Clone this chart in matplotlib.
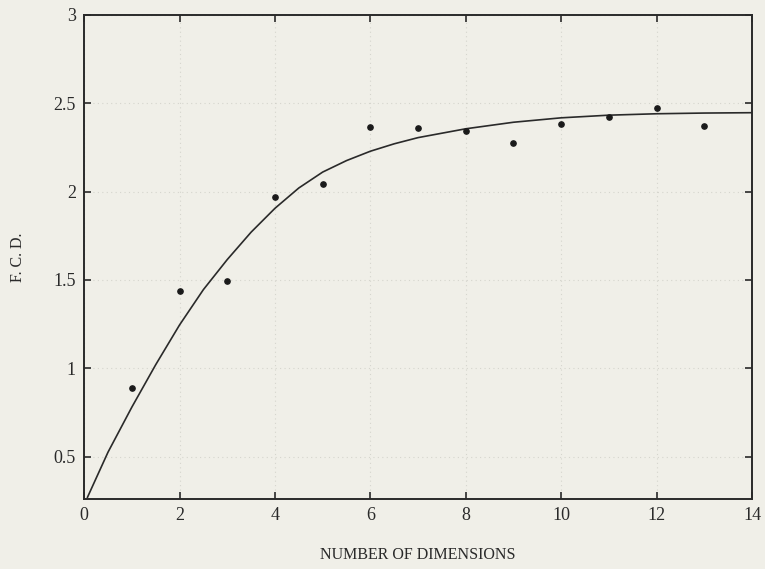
import matplotlib.pyplot as plt
import numpy as np

# measured F.C.D. per number of dimensions
dims = [1, 2, 3, 4, 5, 6, 7, 8, 9, 10, 11, 12, 13]
fcd = [0.886, 1.436, 1.496, 1.97, 2.04, 2.365, 2.36, 2.34, 2.275, 2.38, 2.42, 2.475, 2.37]

# fitted saturation curve
fit_x = [0.07, 0.5, 1.0, 1.5, 2.0, 2.5, 3.0, 3.5, 4.0, 4.5, 5.0, 5.5,
         6.0, 6.5, 7.0, 8.0, 9.0, 10.0, 11.0, 12.0, 13.0, 14.0]
fit_y = [0.27, 0.525, 0.78, 1.02, 1.245, 1.445, 1.615, 1.77, 1.905, 2.02, 2.11, 2.175,
         2.228, 2.27, 2.305, 2.355, 2.392, 2.417, 2.432, 2.44, 2.444, 2.446]

xticks = [0, 2, 4, 6, 8, 10, 12, 14]
yticks = [0.5, 1, 1.5, 2, 2.5, 3]
ytick_labels = ["0.5", "1", "1.5", "2", "2.5", "3"]

paper = "#f0efe8"
ink = "#2a2a2a"

plt.rcParams['font.family'] = ['Liberation Serif', 'DejaVu Serif']

fig = plt.figure(figsize=(7.65, 5.69), dpi=100, facecolor=paper)
ax = fig.add_axes([0.110, 0.123, 0.873, 0.851], facecolor=paper)

ax.grid(True, linestyle=(0, (1, 3)), color="#c4c4bc", linewidth=0.8, alpha=0.6)
ax.set_axisbelow(True)

ax.plot(fit_x, fit_y, color=ink, linewidth=1.2, solid_joinstyle="round")
ax.plot(dims, fcd, linestyle="none", marker="o", markersize=3.8, color="#1a1a1a")

ax.set_xlim(0, 14)
ax.set_ylim(0.26, 3.0)
ax.set_xticks(xticks)
ax.set_yticks(yticks)
ax.set_yticklabels(ytick_labels)

ax.tick_params(direction="in", length=5, width=1.2, top=True, right=True,
               labelsize=13, colors=ink, pad=6)
for side in ax.spines.values():
    side.set_linewidth(1.4)
    side.set_color(ink)

ax.set_xlabel("NUMBER OF DIMENSIONS", fontsize=11.5, color=ink, labelpad=16)
ax.set_ylabel("F. C. D.", fontsize=11.5, color=ink, labelpad=20)

fig.savefig("out.png", dpi=100, facecolor=paper)
